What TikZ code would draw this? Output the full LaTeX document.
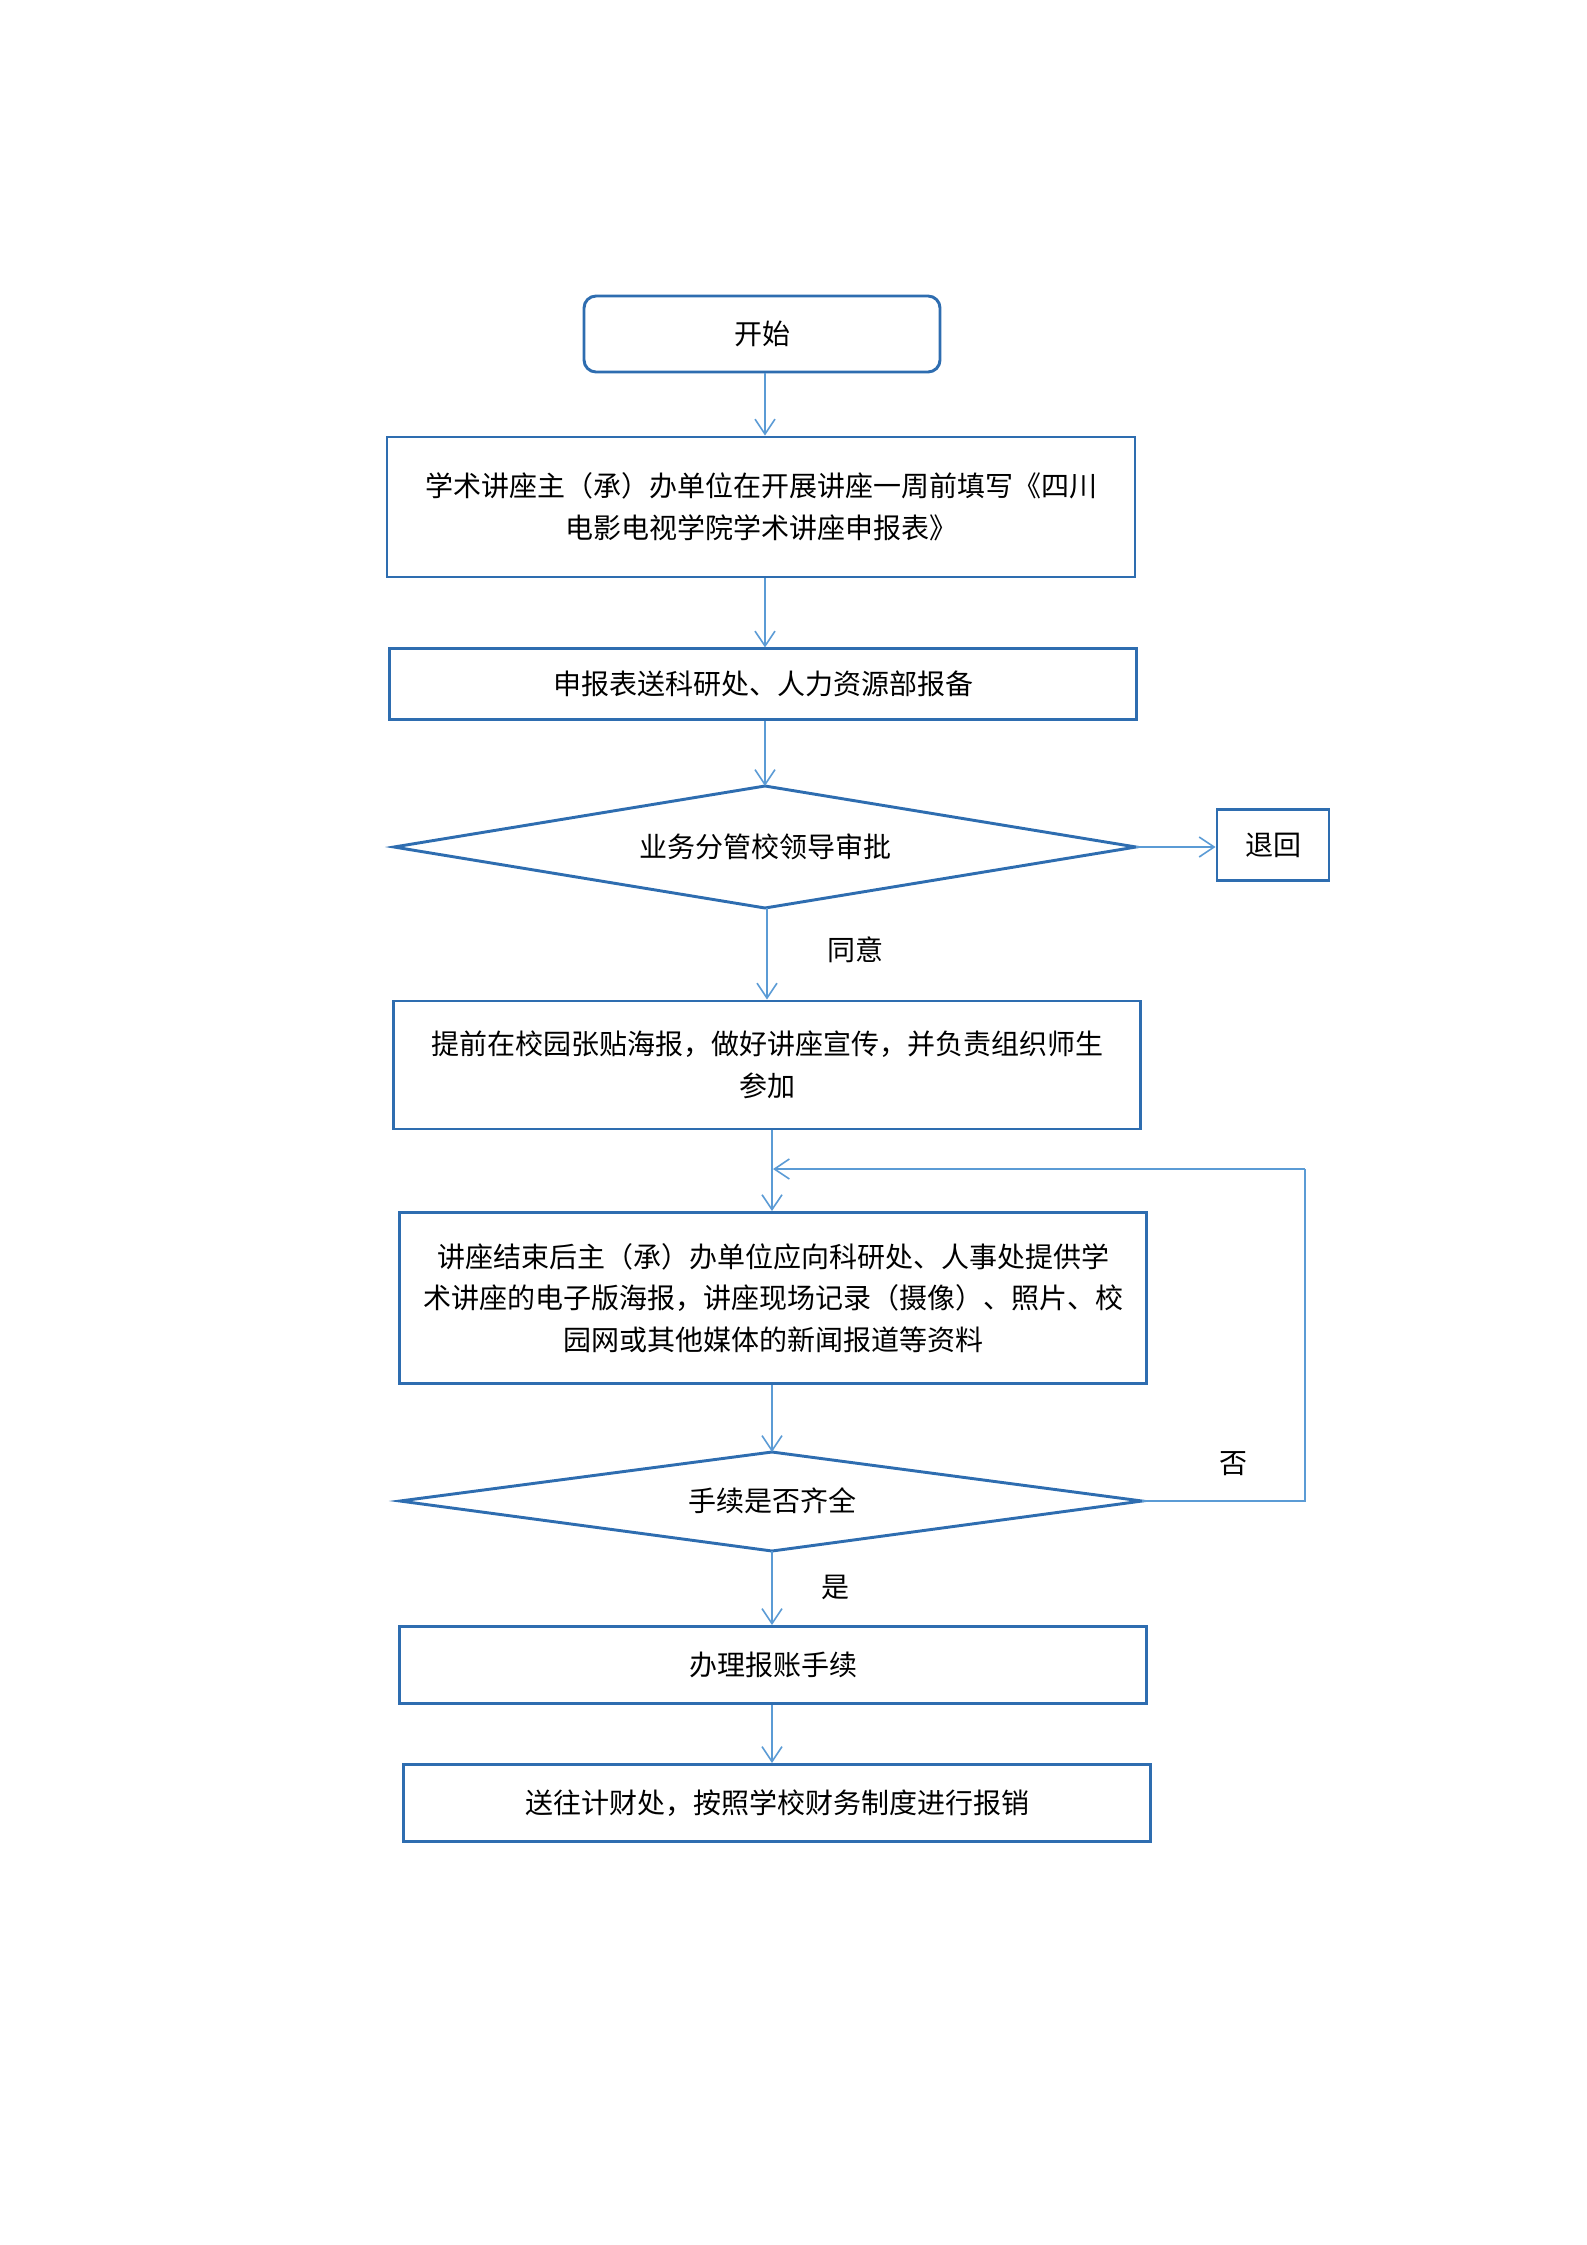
\documentclass[tikz,border=0pt]{standalone}
\usepackage{fontspec}
\setmainfont{Noto Sans CJK SC}
\usetikzlibrary{arrows.meta}
\definecolor{boxblue}{HTML}{2E6DB0}
\definecolor{linkblue}{HTML}{5B9BD5}
\tikzset{
  every node/.style={font=\fontsize{10.5}{15.6}\selectfont, text=black},
  box/.style={draw=boxblue, line width=1.1pt, rectangle, align=center, inner sep=0pt},
  startbox/.style={box, rounded corners=4.5pt},
  decisionline/.style={draw=boxblue, line width=1.1pt, line join=miter},
  link/.style={draw=linkblue, line width=0.6pt, -{Straight Barb[length=5.6pt,width=7.5pt]}},
  plainlink/.style={draw=linkblue, line width=0.6pt},
  lbl/.style={inner sep=0pt}
}
\begin{document}
\begin{tikzpicture}[x=0.375pt,y=-0.375pt]
\useasboundingbox (0,0) rectangle (1587,2245);
\node[startbox, minimum width=133.5pt, minimum height=28.5pt] (start) at (762,334) {开始};
\node[box, minimum width=280.5pt, minimum height=52.5pt] (b2) at (761,507) {学术讲座主（承）办单位在开展讲座一周前填写《四川\\电影电视学院学术讲座申报表》};
\node[box, minimum width=279.8pt, minimum height=26.3pt] (b3) at (763,684) {申报表送科研处、人力资源部报备};
% decision 1
\coordinate (d1n) at (765,786);
\coordinate (d1e) at (1136,847);
\coordinate (d1s) at (765,908);
\coordinate (d1w) at (394,847);
\draw[decisionline] (d1n) -- (d1e) -- (d1s) -- (d1w) -- cycle;
\node (d1) at (765,847) {业务分管校领导审批};
\node[box, minimum width=42pt, minimum height=26.3pt] (back) at (1273,845) {退回};
\node[box, minimum width=279.8pt, minimum height=48pt] (b4) at (767,1065) {提前在校园张贴海报，做好讲座宣传，并负责组织师生\\参加};
\node[box, minimum width=280.1pt, minimum height=64.1pt] (b5) at (773,1298) {讲座结束后主（承）办单位应向科研处、人事处提供学\\术讲座的电子版海报，讲座现场记录（摄像）、照片、校\\园网或其他媒体的新闻报道等资料};
% decision 2
\coordinate (d2n) at (772,1452);
\coordinate (d2e) at (1142,1501);
\coordinate (d2s) at (772,1551);
\coordinate (d2w) at (400,1501);
\draw[decisionline] (d2n) -- (d2e) -- (d2s) -- (d2w) -- cycle;
\node (d2) at (772,1501) {手续是否齐全};
\node[box, minimum width=280.1pt, minimum height=28.9pt] (b6) at (773,1665) {办理报账手续};
\node[box, minimum width=279.8pt, minimum height=28.9pt] (b7) at (777,1803) {送往计财处，按照学校财务制度进行报销};

\coordinate (xa) at (765,0);
\coordinate (xb) at (772,0);
\draw[link] (start.south -| xa) -- (b2.north -| xa);
\draw[link] (b2.south -| xa) -- (b3.north -| xa);
\draw[link] (b3.south -| xa) -- (d1n);
\draw[link] (d1e) -- (back.west |- d1e);
\draw[link] (d1s -| b4) -- (b4.north);
\node[lbl] (agree) at (855,950) {同意};
\draw[link] (b4.south -| xb) -- (b5.north -| xb);
\draw[link] (b5.south -| xb) -- (d2n);
\draw[link] (d2s) -- (b6.north -| xb);
\node[lbl] (yes) at (835,1587) {是};
\draw[link] (b6.south -| xb) -- (b7.north -| xb);
\coordinate (loopa) at (1305,1501);
\coordinate (loopb) at (1305,1169);
\coordinate (loopc) at (773,1169);
\draw[plainlink] (d2e) -- (loopa) -- (loopb);
\draw[link] (loopb) -- (loopc);
\node[lbl] (no) at (1233,1464) {否};
\end{tikzpicture}
\end{document}
